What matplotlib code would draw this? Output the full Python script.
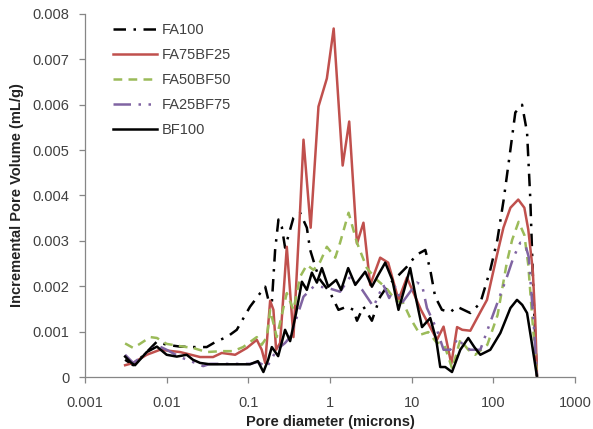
import matplotlib
matplotlib.use("Agg")
import matplotlib.pyplot as plt

# pore diameter (microns) / incremental pore volume (mL/g)
fa100_x = [0.0031, 0.0039, 0.0057, 0.0076, 0.0100, 0.0146, 0.021, 0.031, 0.0411, 0.0546,
           0.0722, 0.105, 0.140, 0.161, 0.176, 0.194, 0.213, 0.234, 0.257, 0.282,
           0.357, 0.431, 0.521, 0.572, 0.68, 0.759, 1.01, 1.27, 1.61, 1.94,
           2.14, 2.57, 3.26, 4.12, 5.16, 6.47, 8.75, 11.4, 14.7, 16.9,
           19.4, 23.5, 29.7, 35.9, 43.3, 52.3, 69.3, 91.8, 112, 134,
           162, 186, 225, 259, 284, 312, 343]
fa100_y = [0.00038, 0.00026, 0.00055, 0.00078, 0.00071, 0.00067, 0.00066, 0.00066, 0.00079, 0.00088,
           0.00104, 0.00155, 0.00185, 0.00199, 0.0017, 0.00163, 0.0028, 0.00347, 0.00331, 0.00285,
           0.00351, 0.00362, 0.00329, 0.0028, 0.00236, 0.00214, 0.00185, 0.00148, 0.00155, 0.00148,
           0.00124, 0.00155, 0.00124, 0.00177, 0.00203, 0.00219, 0.00243, 0.00269, 0.0028, 0.00236,
           0.00177, 0.00148, 0.00143, 0.00155, 0.00148, 0.00141, 0.00163, 0.00236, 0.00302, 0.00391,
           0.00501, 0.00583, 0.0060, 0.00539, 0.00391, 0.0017, 0.0]

fa75_x = [0.0031, 0.0039, 0.0057, 0.0083, 0.0146, 0.0257, 0.037, 0.0473, 0.069, 0.0959,
          0.127, 0.146, 0.161, 0.185, 0.203, 0.219, 0.245, 0.296, 0.357, 0.431,
          0.474, 0.58, 0.723, 0.916, 1.11, 1.43, 1.72, 2.14, 2.57, 3.11,
          4.12, 5.16, 6.9, 8.75, 13.0, 20.4, 24.6, 30.6, 36.0, 41.7,
          52.3, 69.3, 83.7, 91.8, 111, 133, 162, 202, 240, 268,
          304, 326, 343]
fa75_y = [0.00026, 0.00031, 0.00049, 0.0006, 0.00055, 0.00044, 0.00044, 0.00053, 0.00049, 0.00064,
          0.00082, 0.0006, 0.00031, 0.00168, 0.00148, 0.0006, 0.00075, 0.00287, 0.00088, 0.00369,
          0.00523, 0.00329, 0.00596, 0.00658, 0.00768, 0.00466, 0.00563, 0.00294, 0.0034, 0.00203,
          0.00263, 0.00252, 0.0017, 0.00219, 0.00148, 0.00082, 0.00111, 0.00029, 0.0011, 0.00104,
          0.00102, 0.00143, 0.0017, 0.00203, 0.00269, 0.00329, 0.00373, 0.00391, 0.00373, 0.00325,
          0.00236, 0.00126, 0.0]

fa50_x = [0.0031, 0.0039, 0.0047, 0.0063, 0.0076, 0.0100, 0.0146, 0.021, 0.031, 0.0473,
          0.0651, 0.0863, 0.127, 0.146, 0.169, 0.185, 0.223, 0.296, 0.357, 0.431,
          0.521, 0.628, 0.759, 0.916, 1.16, 1.33, 1.69, 2.14, 2.83, 3.76,
          4.9, 6.29, 7.9, 9.61, 12.7, 16.0, 20.0, 25.1, 31.4, 39.4,
          49.4, 60.1, 84.5, 113, 147, 170, 204, 240, 268, 301,
          343]
fa50_y = [0.00074, 0.00064, 0.00073, 0.00088, 0.00086, 0.00073, 0.00068, 0.00064, 0.00055, 0.00057,
          0.00057, 0.00066, 0.00088, 0.00071, 0.00088, 0.00148, 0.00088, 0.00185, 0.00148, 0.00221,
          0.00247, 0.00236, 0.00254, 0.00287, 0.00263, 0.00296, 0.00362, 0.00296, 0.0024, 0.00214,
          0.00196, 0.0017, 0.00163, 0.0013, 0.00093, 0.00099, 0.00077, 0.00071, 0.00018, 0.00082,
          0.0006, 0.00049, 0.00071, 0.00137, 0.00254, 0.00302, 0.00342, 0.00313, 0.00247, 0.00126,
          0.0]

fa25_x = [0.0031, 0.0039, 0.0057, 0.0076, 0.0100, 0.0146, 0.021, 0.028, 0.034, 0.105,
          0.131, 0.169, 0.223, 0.282, 0.325, 0.393, 0.474, 0.628, 0.759, 0.951,
          1.33, 1.77, 2.48, 3.41, 4.5, 5.31, 6.29, 7.6, 9.61, 11.6,
          13.4, 15.4, 20.4, 24.6, 29.7, 37.2, 43.3, 52.3, 69.3, 101,
          147, 176, 214, 247, 271, 312, 343]
fa25_y = [0.00049, 0.00031, 0.00053, 0.0007, 0.0006, 0.00044, 0.00033, 0.00024, 0.00029, 0.00029,
          0.00033, 0.00022, 0.0006, 0.00075, 0.00088, 0.00132, 0.00177, 0.00199, 0.00199, 0.00196,
          0.00188, 0.00221, 0.00192, 0.00155, 0.00203, 0.00174, 0.00199, 0.00163, 0.00188, 0.00208,
          0.00203, 0.00152, 0.00104, 0.0006, 0.0006, 0.00086, 0.00068, 0.0006, 0.0006, 0.00141,
          0.00221, 0.00263, 0.00296, 0.00291, 0.00265, 0.00119, 0.0]

bf100_x = [0.0031, 0.0037, 0.0041, 0.0057, 0.0076, 0.0100, 0.0133, 0.0176, 0.021, 0.0257,
           0.034, 0.105, 0.131, 0.153, 0.175, 0.194, 0.232, 0.282, 0.325, 0.385,
           0.453, 0.521, 0.600, 0.691, 0.796, 0.951, 1.19, 1.37, 1.67, 2.04,
           2.70, 3.26, 3.90, 4.75, 5.8, 6.9, 8.1, 9.6, 11.4, 13.4,
           16.9, 20.0, 22.4, 25.8, 31.2, 39.4, 49.4, 58.5, 69.3, 91.8,
           122, 162, 195, 226, 259, 292, 343]
bf100_y = [0.00045, 0.00031, 0.00026, 0.00055, 0.00067, 0.00049, 0.00045, 0.00049, 0.00038, 0.00031,
           0.00028, 0.00028, 0.00035, 0.00011, 0.00038, 0.00066, 0.00046, 0.00104, 0.00079, 0.00141,
           0.0021, 0.00192, 0.0023, 0.00208, 0.0024, 0.00199, 0.00214, 0.00192, 0.0024, 0.00203,
           0.00232, 0.00199, 0.00225, 0.00252, 0.00214, 0.00148, 0.00192, 0.0024, 0.0017, 0.0011,
           0.0013, 0.00082, 0.00022, 0.00022, 0.00011, 0.0006, 0.00086, 0.00066, 0.00049, 0.0006,
           0.00097, 0.00152, 0.0017, 0.00159, 0.00141, 0.00082, 0.0]

x_ticks = [0.001, 0.01, 0.1, 1, 10, 100, 1000]
x_tick_labels = ["0.001", "0.01", "0.1", "1", "10", "100", "1000"]
y_ticks = [0, 0.001, 0.002, 0.003, 0.004, 0.005, 0.006, 0.007, 0.008]
y_tick_labels = ["0", "0.001", "0.002", "0.003", "0.004", "0.005", "0.006", "0.007", "0.008"]

plt.rcParams["font.family"] = ["Liberation Sans", "DejaVu Sans"]

fig = plt.figure(figsize=(5.93, 4.29), dpi=100)
ax = fig.add_axes([0.1433, 0.1212, 0.8263, 0.8462])

lw = 1.8
ax.plot(fa100_x, fa100_y, color="black", lw=lw, dashes=(5, 3, 1, 3), label="FA100")
ax.plot(fa75_x, fa75_y, color="#C0504D", lw=lw, label="FA75BF25")
ax.plot(fa50_x, fa50_y, color="#9BBB59", lw=lw, dashes=(3.5, 2.5), label="FA50BF50")
ax.plot(fa25_x, fa25_y, color="#8064A2", lw=lw, dashes=(7, 3, 1, 3, 1, 3), label="FA25BF75")
ax.plot(bf100_x, bf100_y, color="black", lw=lw, label="BF100")

ax.set_xscale("log")
ax.set_xlim(0.001, 1000)
ax.set_ylim(0, 0.008)
ax.set_xticks(x_ticks)
ax.set_xticklabels(x_tick_labels)
ax.xaxis.set_minor_locator(matplotlib.ticker.NullLocator())
ax.set_yticks(y_ticks)
ax.set_yticklabels(y_tick_labels)

for side in ("top", "right"):
    ax.spines[side].set_visible(False)
for side in ("left", "bottom"):
    ax.spines[side].set_color("#868686")
    ax.spines[side].set_linewidth(0.9)
ax.tick_params(axis="both", colors="#868686", labelcolor="#404040", labelsize=10.5,
               direction="out", length=4, width=0.9)
ax.tick_params(axis="x", pad=10)
ax.tick_params(axis="y", pad=7)

ax.set_xlabel("Pore diameter (microns)", fontsize=10.5, fontweight="bold", color="#222222", labelpad=3)
ax.set_ylabel("Incremental Pore Volume (mL/g)", fontsize=10.5, fontweight="bold", color="#222222", labelpad=6)

leg = ax.legend(loc="upper left", bbox_to_anchor=(0.045, 0.99), frameon=False, fontsize=10.5,
                handlelength=3.0, handletextpad=0.35, labelspacing=0.75, borderaxespad=0)
for t in leg.get_texts():
    t.set_color("#404040")

fig.savefig("out.png", dpi=100)
